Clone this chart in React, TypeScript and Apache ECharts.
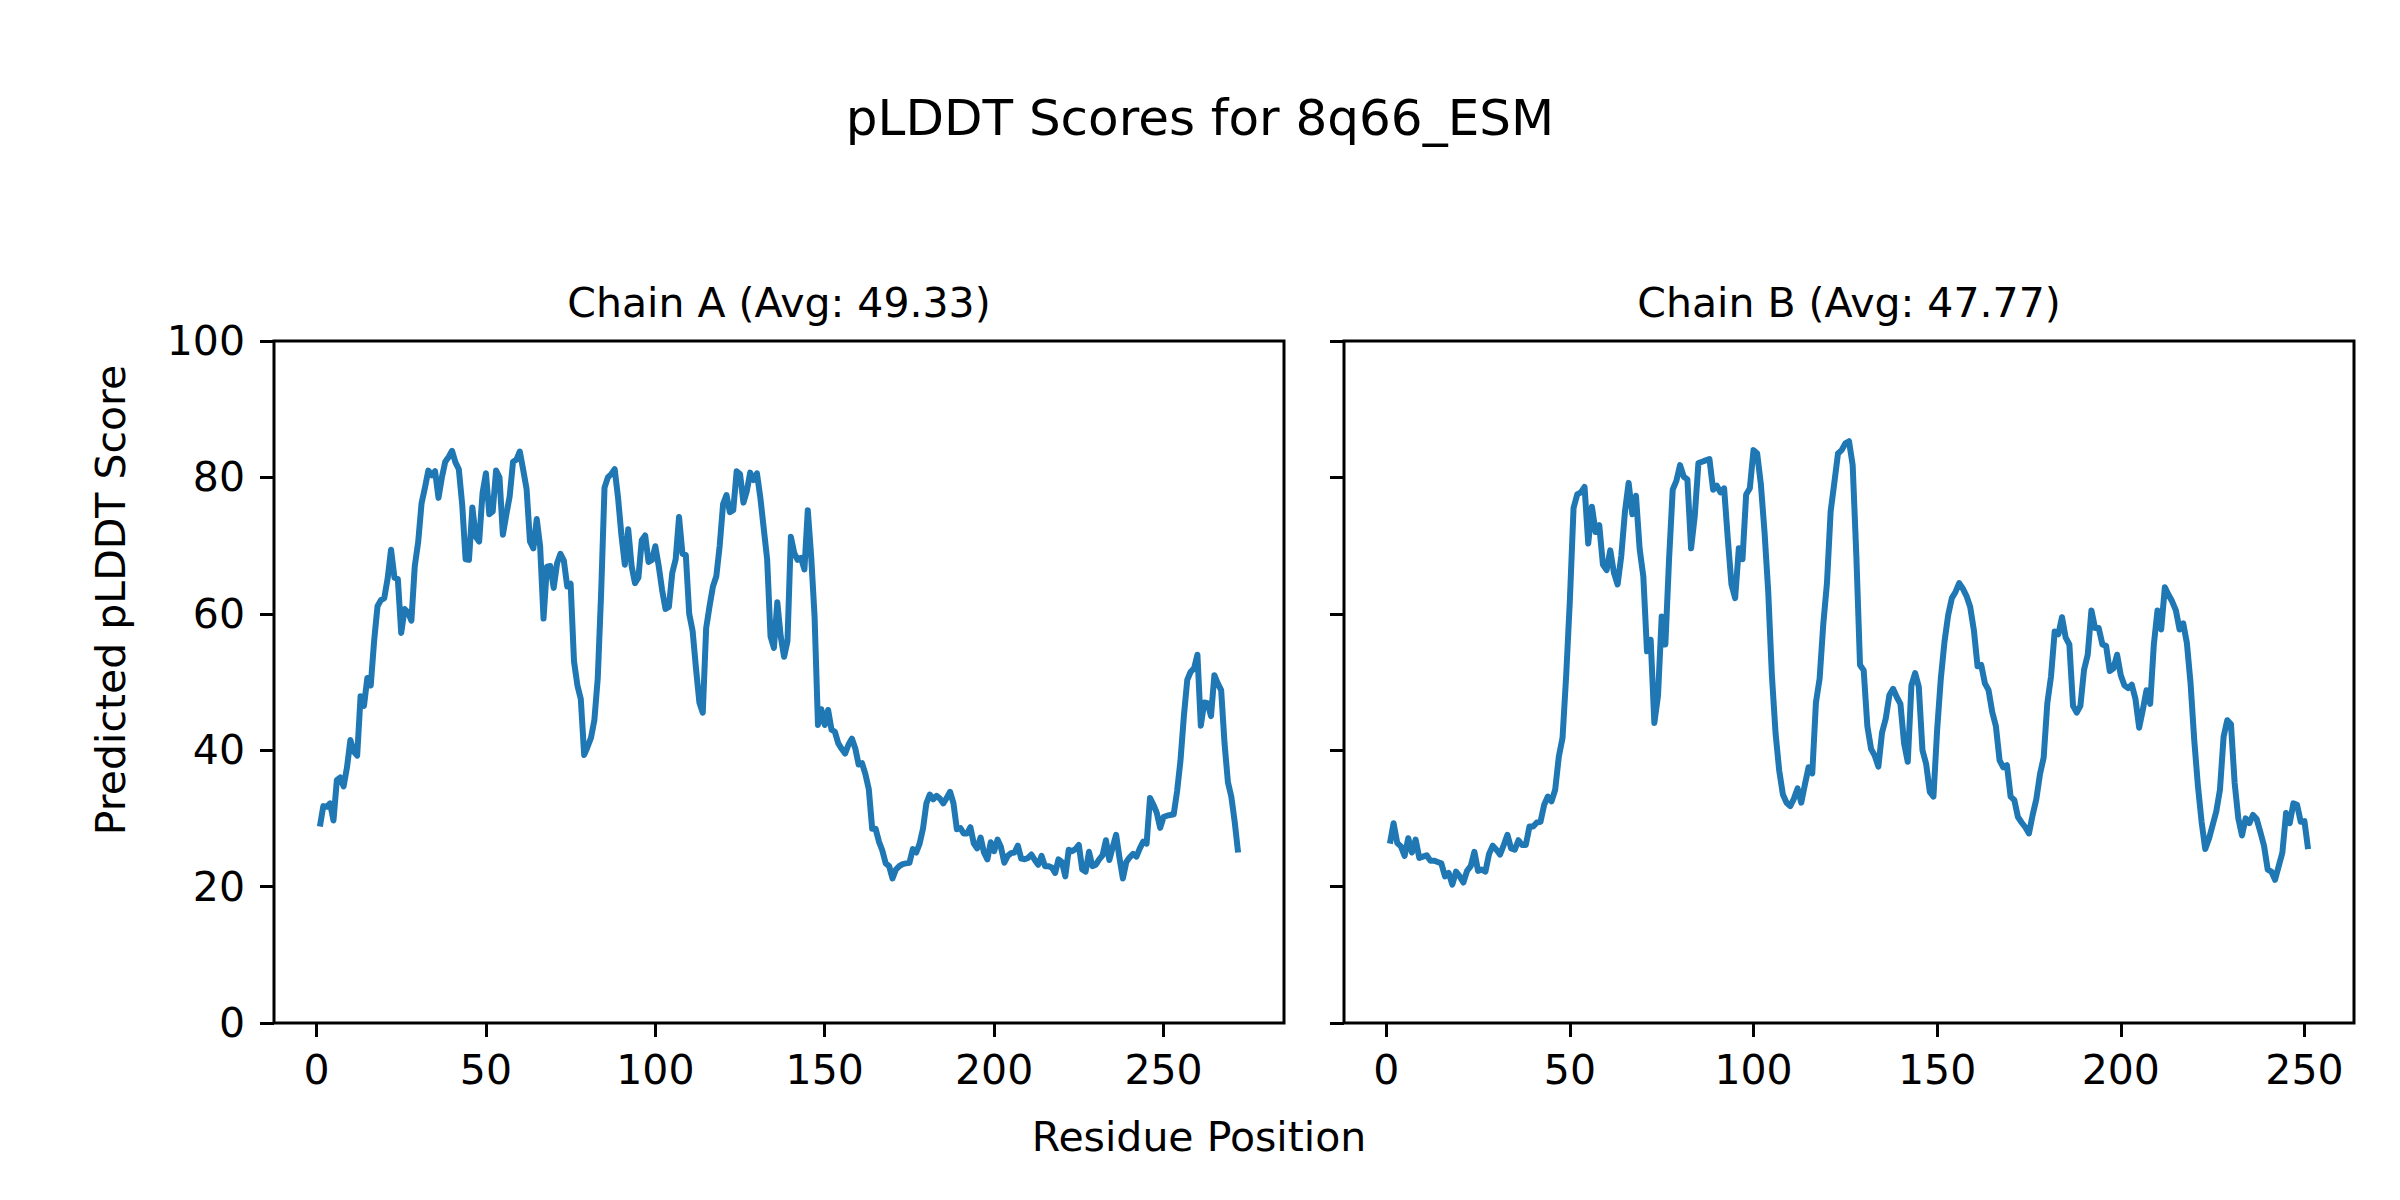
import React, { useEffect, useRef } from "react";
import * as echarts from "echarts";

const figureTitle = "pLDDT Scores for 8q66_ESM";
const chainATitle = "Chain A (Avg: 49.33)";
const chainBTitle = "Chain B (Avg: 47.77)";
const xLabel = "Residue Position";
const yLabel = "Predicted pLDDT Score";

const xTicksA = [0, 50, 100, 150, 200, 250];
const xTicksB = [0, 50, 100, 150, 200, 250];
const yTicks = [0, 20, 40, 60, 80, 100];

// Chain A pLDDT per residue (residues 1..272)
const chainAScores = [
  28.8, 31.8, 31.7, 32.2, 29.7, 35.6, 36.0, 34.7, 37.5, 41.5,
  39.8, 39.2, 47.9, 46.5, 50.6, 49.5, 56.0, 61.1, 62.0, 62.3,
  65.2, 69.4, 65.3, 65.1, 57.2, 60.7, 60.2, 59.0, 67.0, 70.5,
  76.2, 78.5, 81.0, 80.3, 80.9, 77.0, 80.0, 82.3, 83.0, 83.9,
  82.2, 81.2, 76.0, 68.0, 67.9, 75.6, 71.3, 70.6, 77.7, 80.6,
  74.6, 75.0, 81.0, 80.0, 71.6, 74.5, 77.2, 82.3, 82.6, 83.8,
  81.1, 78.3, 70.6, 69.6, 73.9, 69.9, 59.3, 66.9, 67.0, 63.8,
  67.4, 68.8, 67.8, 64.0, 64.4, 53.0, 49.5, 47.5, 39.3, 40.5,
  41.8, 44.4, 50.5, 63.0, 78.5, 80.0, 80.5, 81.2, 77.0, 71.5,
  67.2, 72.4, 67.0, 64.5, 65.3, 70.8, 71.5, 67.6, 67.9, 69.9,
  67.0, 63.5, 60.7, 61.0, 66.0, 68.0, 74.2, 68.8, 68.6, 60.0,
  57.5, 52.0, 47.0, 45.5, 57.9, 61.1, 64.0, 65.5, 70.0, 76.1,
  77.4, 74.9, 75.2, 80.9, 80.5, 76.3, 78.0, 80.7, 79.6, 80.6,
  77.0, 72.5, 68.0, 56.7, 55.0, 61.7, 56.7, 53.7, 56.0, 71.3,
  68.9, 67.9, 68.2, 66.5, 75.2, 68.4, 59.6, 43.7, 46.0, 43.7,
  45.9, 43.0, 42.7, 41.0, 40.2, 39.5, 40.8, 41.7, 40.3, 37.9,
  38.1, 36.5, 34.3, 28.5, 28.5, 26.6, 25.3, 23.4, 23.0, 21.2,
  22.5, 23.0, 23.3, 23.4, 23.5, 25.5, 25.0, 26.3, 28.5, 32.2,
  33.5, 32.8, 33.3, 32.9, 32.2, 33.0, 33.9, 32.2, 28.4, 28.6,
  27.8, 27.8, 28.7, 26.3, 25.6, 27.2, 25.0, 24.0, 26.5, 25.2,
  26.9, 25.8, 23.5, 24.5, 24.9, 25.0, 26.0, 24.1, 24.0, 24.2,
  24.7, 23.9, 23.2, 24.5, 23.0, 23.0, 22.8, 22.0, 24.0, 23.6,
  21.5, 25.4, 25.2, 25.5, 26.1, 22.5, 22.2, 25.1, 23.0, 23.2,
  24.0, 24.6, 26.8, 23.9, 25.8, 27.6, 24.2, 21.2, 23.6, 24.3,
  24.8, 24.4, 25.6, 26.6, 26.3, 33.0, 32.0, 30.8, 28.6, 30.2,
  30.4, 30.5, 30.6, 34.0, 38.5, 45.0, 50.3, 51.5, 52.0, 54.0,
  43.6, 47.0, 46.9, 45.0, 51.0, 49.8, 48.8, 41.0, 35.3, 33.2,
  29.5, 25.0,
];

// Chain B pLDDT per residue (residues 1..251)
const chainBScores = [
  26.3, 29.3, 26.4, 25.9, 24.5, 27.1, 25.0, 26.9, 24.2, 24.4,
  24.6, 23.8, 23.8, 23.6, 23.4, 21.5, 22.0, 20.3, 22.2, 21.5,
  20.6, 22.3, 23.0, 25.1, 22.3, 22.5, 22.2, 24.8, 26.0, 25.4,
  24.7, 26.1, 27.6, 25.6, 25.4, 26.8, 26.1, 26.1, 28.8, 28.8,
  29.4, 29.5, 32.0, 33.2, 32.5, 34.2, 39.1, 41.8, 51.0, 62.0,
  75.5, 77.5, 77.8, 78.6, 70.3, 75.7, 72.0, 73.0, 67.2, 66.4,
  69.3, 66.0, 64.3, 68.5, 75.0, 79.2, 74.6, 77.3, 69.5, 65.5,
  54.5, 56.2, 44.0, 48.0, 59.6, 55.5, 67.9, 78.2, 79.5, 81.8,
  80.1, 79.7, 69.6, 74.3, 82.1, 82.3, 82.5, 82.7, 78.2, 78.8,
  77.8, 78.4, 71.0, 64.3, 62.3, 69.6, 68.0, 77.5, 78.4, 84.0,
  83.5, 79.0, 72.0, 63.3, 51.0, 42.5, 37.0, 33.5, 32.3, 31.8,
  32.9, 34.4, 32.3, 35.0, 37.5, 36.6, 47.0, 50.5, 58.5, 64.5,
  75.0, 79.2, 83.5, 84.0, 85.0, 85.3, 81.8, 68.5, 52.5, 51.7,
  43.5, 40.2, 39.2, 37.6, 42.6, 44.6, 48.1, 49.0, 47.8, 46.8,
  41.0, 38.3, 49.5, 51.3, 49.3, 40.0, 38.0, 33.9, 33.2, 43.0,
  50.5, 55.9, 59.8, 62.3, 63.2, 64.5, 63.7, 62.6, 61.0, 57.6,
  52.3, 52.5, 49.8, 48.8, 45.6, 43.5, 38.5, 37.5, 37.8, 33.2,
  32.7, 30.2, 29.4, 28.7, 27.8, 30.5, 32.8, 36.5, 38.9, 46.9,
  50.8, 57.4, 57.0, 59.5, 56.5, 55.5, 46.5, 45.5, 46.5, 51.8,
  54.0, 60.5, 57.9, 57.9, 55.5, 55.3, 51.6, 52.0, 54.0, 51.0,
  49.5, 49.1, 49.6, 47.5, 43.3, 45.9, 48.8, 46.8, 55.5, 60.5,
  57.7, 63.9, 62.8, 61.8, 60.5, 57.7, 58.6, 55.7, 49.8, 41.5,
  34.8, 29.5, 25.5, 27.0, 29.0, 31.0, 34.2, 42.0, 44.4, 43.8,
  35.2, 30.0, 27.5, 30.0, 29.3, 30.5, 29.9, 28.0, 26.0, 22.5,
  22.2, 21.0, 23.0, 25.0, 30.8, 29.3, 32.2, 32.0, 29.5, 29.6,
  25.5,
];

const FONT = "'DejaVu Sans', sans-serif";
const LINE_COLOR = "#1f77b4";

export default function App() {
  const ref = useRef<HTMLDivElement>(null);

  useEffect(() => {
    if (!ref.current) return;
    const chart = echarts.init(ref.current, undefined, { renderer: "svg" });

    const nA = chainAScores.length;
    const nB = chainBScores.length;
    const padA = (nA - 1) * 0.05;
    const padB = (nB - 1) * 0.05;

    const dataA = chainAScores.map((v, i) => [i + 1, v]);
    const dataB = chainBScores.map((v, i) => [i + 1, v]);

    const tickStyle = { show: true, inside: false, length: 14, lineStyle: { color: "#000", width: 3 } };
    const labelStyle = { color: "#000", fontSize: 41, fontFamily: FONT };

    const makeX = (idx: number, min: number, max: number, ticks: number[]) => ({
      type: "value",
      gridIndex: idx,
      min,
      max,
      axisLine: { show: false, onZero: false },
      axisTick: { ...tickStyle, customValues: ticks },
      axisLabel: { ...labelStyle, margin: 26, customValues: ticks },
      splitLine: { show: false },
    });
    const makeY = (idx: number, showLabels: boolean) => ({
      type: "value",
      gridIndex: idx,
      position: "left",
      min: yTicks[0],
      max: yTicks[yTicks.length - 1],
      interval: yTicks[1] - yTicks[0],
      axisLine: { show: false, onZero: false },
      axisTick: tickStyle,
      axisLabel: { ...labelStyle, show: showLabels, margin: 29 },
      splitLine: { show: false },
    });

    const gridBase = { top: 341, height: 682, width: 1010, show: true, borderColor: "#000", borderWidth: 3, backgroundColor: "transparent" };

    chart.setOption({
      animation: false,
      backgroundColor: "#fff",
      grid: [
        { ...gridBase, left: 274 },
        { ...gridBase, left: 1344 },
      ],
      xAxis: [
        makeX(0, 1 - padA, nA + padA, xTicksA),
        makeX(1, 1 - padB, nB + padB, xTicksB),
      ],
      yAxis: [makeY(0, true), makeY(1, false)],
      series: [
        {
          type: "line",
          xAxisIndex: 0,
          yAxisIndex: 0,
          data: dataA,
          showSymbol: false,
          lineStyle: { color: LINE_COLOR, width: 6, join: "round" },
          z: 5,
        },
        {
          type: "line",
          xAxisIndex: 1,
          yAxisIndex: 1,
          data: dataB,
          showSymbol: false,
          lineStyle: { color: LINE_COLOR, width: 6, join: "round" },
          z: 5,
        },
      ],
      graphic: [
        {
          type: "text",
          x: 1200,
          y: 118,
          style: { text: figureTitle, font: `50px ${FONT}`, fill: "#000", textAlign: "center", textVerticalAlign: "middle" },
        },
        {
          type: "text",
          x: 779,
          y: 303,
          style: { text: chainATitle, font: `41px ${FONT}`, fill: "#000", textAlign: "center", textVerticalAlign: "middle" },
        },
        {
          type: "text",
          x: 1849,
          y: 303,
          style: { text: chainBTitle, font: `41px ${FONT}`, fill: "#000", textAlign: "center", textVerticalAlign: "middle" },
        },
        {
          type: "text",
          x: 1199,
          y: 1137,
          style: { text: xLabel, font: `41px ${FONT}`, fill: "#000", textAlign: "center", textVerticalAlign: "middle" },
        },
        {
          type: "text",
          x: 111,
          y: 600,
          rotation: Math.PI / 2,
          style: { text: yLabel, font: `41px ${FONT}`, fill: "#000", textAlign: "center", textVerticalAlign: "middle" },
        },
      ],
    });

    return () => chart.dispose();
  }, []);

  return (
    <div
      ref={ref}
      style={{ position: "absolute", left: 0, top: 0, width: 2400, height: 1200 }}
    />
  );
}
